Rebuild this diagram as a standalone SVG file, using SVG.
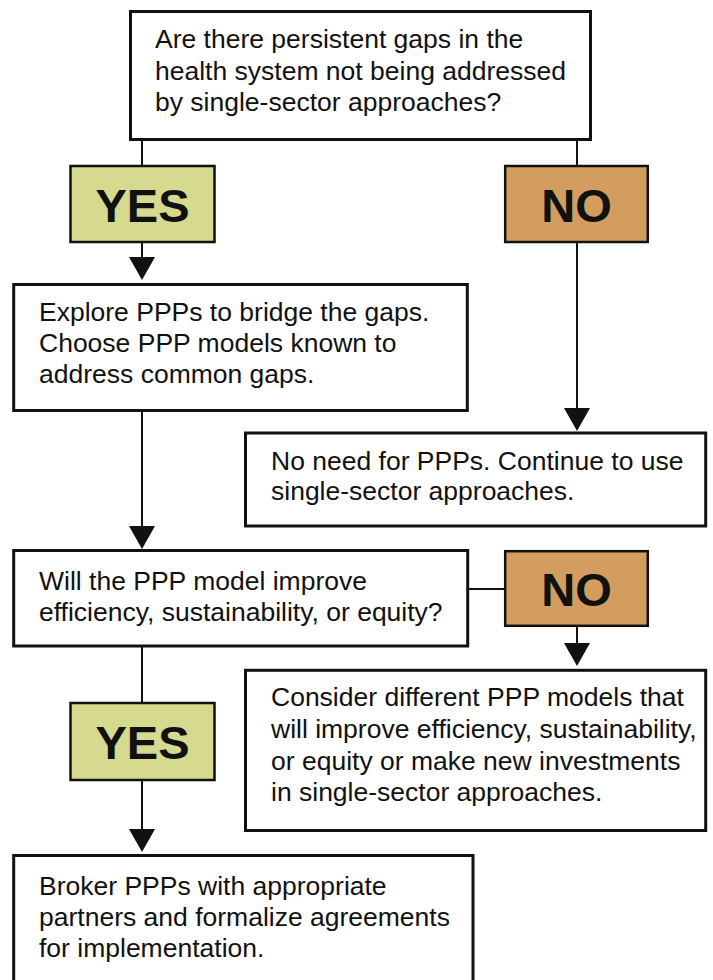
<svg xmlns="http://www.w3.org/2000/svg" width="713" height="980" viewBox="0 0 713 980">
  <defs>
    <marker id="arrow" viewBox="0 0 23 26" markerWidth="23" markerHeight="26" refX="15" refY="13" orient="auto" markerUnits="userSpaceOnUse">
      <path d="M0,0 L23,13 L0,26 Z" fill="#111"/>
    </marker>
    <style>
      .box { fill: #ffffff; stroke: #111111; stroke-width: 3; }
      .yes { fill: #d5da8f; stroke: #111111; stroke-width: 2.5; }
      .no { fill: #d39d5f; stroke: #111111; stroke-width: 2.5; }
      .txt { font-family: "Liberation Sans", Arial, sans-serif; font-size: 26.5px; fill: #111111; }
      .big { font-family: "Liberation Sans", Arial, sans-serif; font-size: 47px; font-weight: bold; fill: #111111; text-anchor: middle; }
      .conn { fill: none; stroke: #111111; stroke-width: 2; }
      .arr { fill: none; stroke: #111111; stroke-width: 2; marker-end: url(#arrow); }
    </style>
  </defs>
  <rect width="713" height="980" fill="#ffffff"/>

  <g id="connectors">
    <line class="conn" x1="142" y1="139" x2="142" y2="166"/>
    <line class="conn" x1="577" y1="139" x2="577" y2="166"/>
    <line class="arr" x1="142" y1="243" x2="142" y2="272"/>
    <line class="arr" x1="577" y1="243" x2="577" y2="423"/>
    <line class="arr" x1="142" y1="411" x2="142" y2="541"/>
    <line class="conn" x1="468" y1="589" x2="505" y2="589"/>
    <line class="arr" x1="577" y1="627" x2="577" y2="658"/>
    <line class="conn" x1="142" y1="646" x2="142" y2="703"/>
    <line class="arr" x1="142" y1="781" x2="142" y2="844"/>
  </g>

  <g id="q1">
    <rect class="box" x="130.5" y="11.5" width="460" height="128" stroke-width="4"/>
    <text class="txt" x="155" y="48">Are there persistent gaps in the</text>
    <text class="txt" x="155" y="80">health system not being addressed</text>
    <text class="txt" x="155" y="111">by single-sector approaches?</text>
  </g>

  <g id="yes1">
    <rect class="yes" x="70.5" y="166" width="144" height="76"/>
    <text class="big" x="142.5" y="222">YES</text>
  </g>

  <g id="no1">
    <rect class="no" x="505.2" y="166" width="142.6" height="76"/>
    <text class="big" x="576.5" y="222">NO</text>
  </g>

  <g id="explore">
    <rect class="box" x="13.7" y="284.5" width="453.6" height="126"/>
    <text class="txt" x="39" y="321">Explore PPPs to bridge the gaps.</text>
    <text class="txt" x="39" y="352">Choose PPP models known to</text>
    <text class="txt" x="39" y="383">address common gaps.</text>
  </g>

  <g id="noneed">
    <rect class="box" x="245.5" y="433" width="460.2" height="93"/>
    <text class="txt" x="271" y="469.5">No need for PPPs. Continue to use</text>
    <text class="txt" x="271" y="500">single-sector approaches.</text>
  </g>

  <g id="q2">
    <rect class="box" x="13.7" y="550.5" width="454" height="95.5"/>
    <text class="txt" x="39" y="590">Will the PPP model improve</text>
    <text class="txt" x="39" y="620.5">efficiency, sustainability, or equity?</text>
  </g>

  <g id="no2">
    <rect class="no" x="505.2" y="551.2" width="142.6" height="74.6"/>
    <text class="big" x="576.5" y="606">NO</text>
  </g>

  <g id="consider">
    <rect class="box" x="245.5" y="670.3" width="460.2" height="160.2"/>
    <text class="txt" x="271" y="706">Consider different PPP models that</text>
    <text class="txt" x="271" y="737.5">will improve efficiency, sustainability,</text>
    <text class="txt" x="271" y="769.5">or equity or make new investments</text>
    <text class="txt" x="271" y="801">in single-sector approaches.</text>
  </g>

  <g id="yes2">
    <rect class="yes" x="70.5" y="703" width="144" height="77"/>
    <text class="big" x="142.5" y="759">YES</text>
  </g>

  <g id="broker">
    <rect class="box" x="13.7" y="855.5" width="459.3" height="140"/>
    <text class="txt" x="39" y="894.5">Broker PPPs with appropriate</text>
    <text class="txt" x="39" y="926">partners and formalize agreements</text>
    <text class="txt" x="39" y="957">for implementation.</text>
  </g>
</svg>
